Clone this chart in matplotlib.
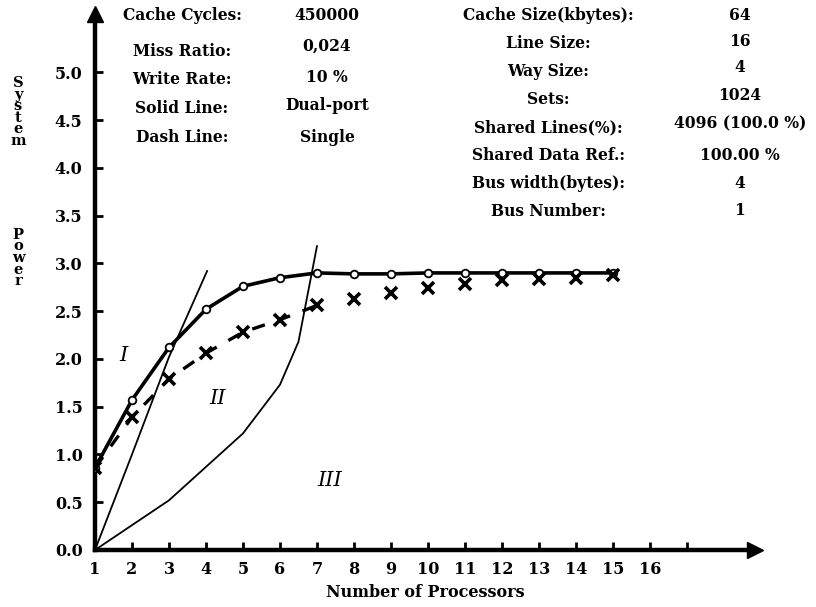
import matplotlib
matplotlib.use('Agg')
import matplotlib.pyplot as plt

# number of processors and measured system power
processors = [1, 2, 3, 4, 5, 6, 7, 8, 9, 10, 11, 12, 13, 14, 15]
dual_port = [0.86, 1.57, 2.12, 2.52, 2.76, 2.85, 2.90, 2.89, 2.89, 2.90, 2.90, 2.90, 2.90, 2.90, 2.90]
single = [0.86, 1.39, 1.79, 2.06, 2.28, 2.41, 2.56, 2.63, 2.69, 2.74, 2.78, 2.83, 2.84, 2.85, 2.88]

# region boundaries (thin lines)
bound_a_x = [1, 2, 3, 4.03]
bound_a_y = [0.0, 1.0, 2.02, 2.92]
bound_b_x = [1, 3, 5, 6, 6.5, 7.0]
bound_b_y = [0.0, 0.52, 1.22, 1.73, 2.18, 3.18]

x_ticks = list(range(1, 18))
x_labels = [str(i) for i in range(1, 17)] + ['']
y_ticks = [0.0, 0.5, 1.0, 1.5, 2.0, 2.5, 3.0, 3.5, 4.0, 4.5, 5.0]
y_labels = ['%.1f' % v for v in y_ticks]

left_names = ['Cache Cycles:', 'Miss Ratio:', 'Write Rate:', 'Solid Line:', 'Dash Line:']
left_values = ['450000', '0,024', '10 %', 'Dual-port', 'Single']
right_names = ['Cache Size(kbytes):', 'Line Size:', 'Way Size:', 'Sets:', 'Shared Lines(%):',
               'Shared Data Ref.:', 'Bus width(bytes):', 'Bus Number:']
right_values = ['64', '16', '4', '1024', '4096 (100.0 %)', '100.00 %', '4', '1']

FONT = 'DejaVu Serif'
W, H = 816, 607


def main():
    fig = plt.figure(figsize=(W / 100, H / 100), dpi=100)
    ax = fig.add_axes([95 / W, (H - 550) / H, (755 - 95) / W, (550 - 14) / H])
    ax.set_xlim(1, 18.84)
    ax.set_ylim(0, 5.61)

    # boundaries
    ax.plot(bound_a_x, bound_a_y, color='black', lw=1.3)
    ax.plot(bound_b_x, bound_b_y, color='black', lw=1.3)

    # dual-port: thick solid with open circles
    ax.plot(processors, dual_port, color='black', lw=2.6, marker='o', ms=5.5,
            mfc='white', mec='black', mew=1.3, zorder=4)
    # single: dashed with x markers
    ax.plot(processors[:7], single[:7], color='black', lw=2.4, ls=(0, (4, 4)), zorder=3)
    ax.plot(processors, single, ls='none', marker='x', ms=8, mew=2.6, color='black', zorder=5)

    # region labels
    for txt, xx, yy in [('I', 1.76, 2.04), ('II', 4.32, 1.59), ('III', 7.35, 0.73)]:
        ax.text(xx, yy, txt, fontsize=15, style='italic', family=FONT, ha='center', va='center')

    for s in ['top', 'right']:
        ax.spines[s].set_visible(False)
    for s in ['left', 'bottom']:
        ax.spines[s].set_linewidth(3.2)
    ax.plot([0], [1], marker='^', ms=11, color='black', transform=ax.transAxes, clip_on=False)
    ax.plot([1], [0], marker='>', ms=11, color='black', transform=ax.transAxes, clip_on=False)

    ax.set_xticks(x_ticks)
    ax.set_xticklabels(x_labels)
    ax.set_yticks(y_ticks)
    ax.set_yticklabels(y_labels)
    ax.tick_params(direction='in', length=6, width=2, labelsize=11.5)
    ax.tick_params(axis='x', pad=8)
    ax.tick_params(axis='y', pad=9)
    for lab in ax.get_xticklabels() + ax.get_yticklabels():
        lab.set_family(FONT)
        lab.set_fontweight('bold')

    ax.set_xlabel('Number of Processors', fontsize=11.5, family=FONT, fontweight='bold', labelpad=4)

    # vertical stacked y label
    fig.text(18 / W, 1 - 112 / H, '\n'.join('System'), fontsize=10.5, family=FONT,
             fontweight='bold', ha='center', va='center', linespacing=0.78)
    fig.text(18 / W, 1 - 258 / H, '\n'.join('Power'), fontsize=10.5, family=FONT,
             fontweight='bold', ha='center', va='center', linespacing=0.78)

    # parameter block
    left_name_y = [15, 51, 79, 108, 137]
    left_value_y = [15, 46, 77, 106, 137]
    for name, val, yn, yv in zip(left_names, left_values, left_name_y, left_value_y):
        fig.text(182 / W, 1 - yn / H, name, fontsize=11.2, family=FONT, fontweight='bold',
                 ha='center', va='center')
        fig.text(327 / W, 1 - yv / H, val, fontsize=11.2, family=FONT, fontweight='bold',
                 ha='center', va='center')
    right_name_y = [15, 43, 71, 100, 128, 156, 184, 212]
    right_value_y = [15, 41, 68, 96, 124, 156, 184, 210]
    for name, val, yn, yv in zip(right_names, right_values, right_name_y, right_value_y):
        fig.text(548 / W, 1 - yn / H, name, fontsize=11.2, family=FONT, fontweight='bold',
                 ha='center', va='center')
        fig.text(740 / W, 1 - yv / H, val, fontsize=11.2, family=FONT, fontweight='bold',
                 ha='center', va='center')

    fig.savefig('out.png', dpi=100)


main()
